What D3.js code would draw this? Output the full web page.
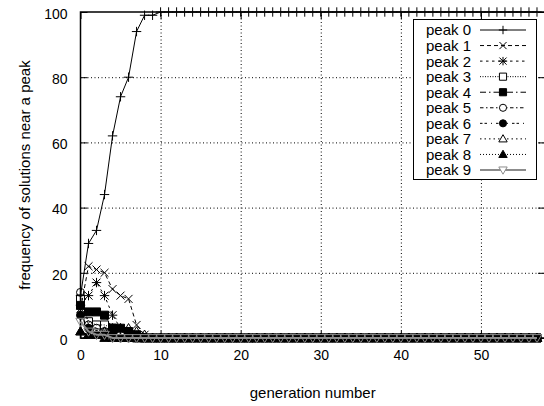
<!DOCTYPE html>
<html>
<head>
<meta charset="utf-8">
<script src="https://cdn.jsdelivr.net/npm/d3@7"></script>
<style>
  body { margin: 0; background: #fff; }
  svg { display: block; font-family: "Liberation Sans", Arial, Helvetica, sans-serif; }
</style>
</head>
<body>
<svg id="chart" width="544" height="406"></svg>
<script>
// generation number 0..57
const generations = [
  0, 1, 2, 3, 4, 5, 6, 7, 8, 9, 10, 11, 12, 13, 14, 15, 16, 17, 18, 19,
  20, 21, 22, 23, 24, 25, 26, 27, 28, 29, 30, 31, 32, 33, 34, 35, 36, 37, 38, 39,
  40, 41, 42, 43, 44, 45, 46, 47, 48, 49, 50, 51, 52, 53, 54, 55, 56, 57
];

const peak0 = [
  13, 29, 33, 44, 62, 74, 80, 94, 99, 99, 100, 100, 100, 100, 100, 100, 100, 100, 100, 100,
  100, 100, 100, 100, 100, 100, 100, 100, 100, 100, 100, 100, 100, 100, 100, 100, 100, 100, 100, 100,
  100, 100, 100, 100, 100, 100, 100, 100, 100, 100, 100, 100, 100, 100, 100, 100, 100, 100
];
const peak1 = [
  9, 22, 21, 20, 15, 13, 12, 4, 1, 0, 0, 0, 0, 0, 0, 0, 0, 0, 0, 0,
  0, 0, 0, 0, 0, 0, 0, 0, 0, 0, 0, 0, 0, 0, 0, 0, 0, 0, 0, 0,
  0, 0, 0, 0, 0, 0, 0, 0, 0, 0, 0, 0, 0, 0, 0, 0, 0, 0
];
const peak2 = [
  10, 13, 17, 13, 7, 3, 1, 0, 0, 0, 0, 0, 0, 0, 0, 0, 0, 0, 0, 0,
  0, 0, 0, 0, 0, 0, 0, 0, 0, 0, 0, 0, 0, 0, 0, 0, 0, 0, 0, 0,
  0, 0, 0, 0, 0, 0, 0, 0, 0, 0, 0, 0, 0, 0, 0, 0, 0, 0
];
const peak3 = [
  12, 5, 4, 4, 3, 2, 1, 0, 0, 0, 0, 0, 0, 0, 0, 0, 0, 0, 0, 0,
  0, 0, 0, 0, 0, 0, 0, 0, 0, 0, 0, 0, 0, 0, 0, 0, 0, 0, 0, 0,
  0, 0, 0, 0, 0, 0, 0, 0, 0, 0, 0, 0, 0, 0, 0, 0, 0, 0
];
const peak4 = [
  10, 8, 8, 7, 3, 3, 2, 1, 0, 0, 0, 0, 0, 0, 0, 0, 0, 0, 0, 0,
  0, 0, 0, 0, 0, 0, 0, 0, 0, 0, 0, 0, 0, 0, 0, 0, 0, 0, 0, 0,
  0, 0, 0, 0, 0, 0, 0, 0, 0, 0, 0, 0, 0, 0, 0, 0, 0, 0
];
const peak5 = [
  14, 4, 3, 2, 2, 1, 1, 0, 0, 0, 0, 0, 0, 0, 0, 0, 0, 0, 0, 0,
  0, 0, 0, 0, 0, 0, 0, 0, 0, 0, 0, 0, 0, 0, 0, 0, 0, 0, 0, 0,
  0, 0, 0, 0, 0, 0, 0, 0, 0, 0, 0, 0, 0, 0, 0, 0, 0, 0
];
const peak6 = [
  7, 3, 1, 1, 1, 0, 0, 0, 0, 0, 0, 0, 0, 0, 0, 0, 0, 0, 0, 0,
  0, 0, 0, 0, 0, 0, 0, 0, 0, 0, 0, 0, 0, 0, 0, 0, 0, 0, 0, 0,
  0, 0, 0, 0, 0, 0, 0, 0, 0, 0, 0, 0, 0, 0, 0, 0, 0, 0
];
const peak7 = [
  2, 1, 1, 2, 3, 3, 3, 2, 1, 0, 0, 0, 0, 0, 0, 0, 0, 0, 0, 0,
  0, 0, 0, 0, 0, 0, 0, 0, 0, 0, 0, 0, 0, 0, 0, 0, 0, 0, 0, 0,
  0, 0, 0, 0, 0, 0, 0, 0, 0, 0, 0, 0, 0, 0, 0, 0, 0, 0
];
const peak8 = [
  2, 1, 1, 0, 0, 0, 0, 0, 0, 0, 0, 0, 0, 0, 0, 0, 0, 0, 0, 0,
  0, 0, 0, 0, 0, 0, 0, 0, 0, 0, 0, 0, 0, 0, 0, 0, 0, 0, 0, 0,
  0, 0, 0, 0, 0, 0, 0, 0, 0, 0, 0, 0, 0, 0, 0, 0, 0, 0
];
const peak9 = [
  5, 2, 1, 1, 0, 0, 0, 0, 0, 0, 0, 0, 0, 0, 0, 0, 0, 0, 0, 0,
  0, 0, 0, 0, 0, 0, 0, 0, 0, 0, 0, 0, 0, 0, 0, 0, 0, 0, 0, 0,
  0, 0, 0, 0, 0, 0, 0, 0, 0, 0, 0, 0, 0, 0, 0, 0, 0, 0
];

const seriesNames = ["peak 0", "peak 1", "peak 2", "peak 3", "peak 4",
                     "peak 5", "peak 6", "peak 7", "peak 8", "peak 9"];
const seriesValues = [peak0, peak1, peak2, peak3, peak4, peak5, peak6, peak7, peak8, peak9];
const xTicks = [0, 10, 20, 30, 40, 50];
const yTicks = [0, 20, 40, 60, 80, 100];

// line / marker styles, one per series
const styles = [
  { dash: null,              marker: "plus",      color: "#000", width: 1 },
  { dash: "4,3",             marker: "cross",     color: "#000", width: 1 },
  { dash: "2.5,3.5",         marker: "star",      color: "#000", width: 1 },
  { dash: "1,1.5",           marker: "square",    color: "#000", width: 1 },
  { dash: "6,3,1.5,3",       marker: "squareF",   color: "#000", width: 1 },
  { dash: "3.5,2.5,1.5,2.5", marker: "circle",    color: "#000", width: 1 },
  { dash: "2.5,2,2.5,4,1,4", marker: "circleF",   color: "#000", width: 1 },
  { dash: "1.5,3",           marker: "triangle",  color: "#000", width: 1 },
  { dash: "1,2",             marker: "triangleF", color: "#000", width: 1 },
  { dash: null,              marker: "triangleD", color: "#8c8c8c", width: 2 }
];

const svg = d3.select("#chart");
const m = { left: 80.5, right: 545, top: 12, bottom: 338 };

const x = d3.scaleLinear().domain([0, 58]).range([m.left, m.right]);
const y = d3.scaleLinear().domain([0, 100]).range([m.bottom, m.top]);

// grid
svg.append("g")
  .attr("transform", `translate(0,${m.bottom})`)
  .call(d3.axisBottom(x).tickValues(xTicks.slice(1)).tickSize(-(m.bottom - m.top)).tickFormat(""))
  .call(g => g.select(".domain").remove())
  .call(g => g.selectAll("line").attr("stroke", "#000").attr("stroke-dasharray", "1,2.5"));
svg.append("g")
  .attr("transform", `translate(${m.left},0)`)
  .call(d3.axisLeft(y).tickValues(yTicks.slice(1, -1)).tickSize(-(m.right - m.left)).tickFormat(""))
  .call(g => g.select(".domain").remove())
  .call(g => g.selectAll("line").attr("stroke", "#000").attr("stroke-dasharray", "1,2.5"));

// border
svg.append("rect")
  .attr("x", m.left).attr("y", m.top)
  .attr("width", m.right - m.left).attr("height", m.bottom - m.top)
  .attr("fill", "none").attr("stroke", "#000").attr("stroke-width", 1.5);

// axes with inward ticks
svg.append("g")
  .attr("transform", `translate(0,${m.bottom})`)
  .call(d3.axisBottom(x).tickValues(xTicks).tickSize(-7).tickPadding(12))
  .call(g => g.select(".domain").remove())
  .call(g => g.selectAll("text").attr("font-size", 14).attr("fill", "#000"));
svg.append("g")
  .attr("transform", `translate(0,${m.top})`)
  .call(d3.axisTop(x).tickValues(xTicks).tickSize(-7).tickFormat(""))
  .call(g => g.select(".domain").remove());
svg.append("g")
  .attr("transform", `translate(${m.left},0)`)
  .call(d3.axisLeft(y).tickValues(yTicks).tickSize(-7).tickPadding(13))
  .call(g => g.select(".domain").remove())
  .call(g => g.selectAll("text").attr("font-size", 14).attr("fill", "#000").attr("dy", "0.45em"));
svg.append("g")
  .attr("transform", `translate(${m.right},0)`)
  .call(d3.axisRight(y).tickValues(yTicks).tickSize(-7).tickFormat(""))
  .call(g => g.select(".domain").remove());

svg.selectAll(".tick text").attr("font-family", null);

// axis titles
svg.append("text")
  .attr("x", (m.left + m.right) / 2).attr("y", 398)
  .attr("text-anchor", "middle").attr("font-size", 15)
  .text("generation number");
svg.append("text")
  .attr("transform", `translate(30,${(m.top + m.bottom) / 2}) rotate(-90)`)
  .attr("text-anchor", "middle").attr("font-size", 15)
  .text("frequency of solutions near a peak");

// marker path
function markerPath(type, s) {
  const t = s * 0.85;
  switch (type) {
    case "plus": return `M${-s},0H${s}M0,${-s}V${s}`;
    case "cross": return `M${-t},${-t}L${t},${t}M${-t},${t}L${t},${-t}`;
    case "star": return `M${-s},0H${s}M0,${-s}V${s}M${-t},${-t}L${t},${t}M${-t},${t}L${t},${-t}`;
    case "square": case "squareF": return `M${-t},${-t}H${t}V${t}H${-t}Z`;
    case "circle": case "circleF": return d3.arc()({ innerRadius: 0, outerRadius: t, startAngle: 0, endAngle: 2 * Math.PI });
    case "triangle": case "triangleF": return `M0,${-s}L${s},${s * 0.72}L${-s},${s * 0.72}Z`;
    case "triangleD": return `M0,${s}L${s},${-s * 0.72}L${-s},${-s * 0.72}Z`;
  }
}
const filled = t => t.endsWith("F");

const line = d3.line().x((d, i) => x(generations[i])).y(d => y(d));

seriesValues.forEach((vals, k) => {
  const st = styles[k];
  const g = svg.append("g");
  g.append("path")
    .datum(vals)
    .attr("d", line)
    .attr("fill", "none")
    .attr("stroke", st.color)
    .attr("stroke-width", st.width)
    .attr("stroke-dasharray", st.dash);
  g.selectAll(".pt")
    .data(vals)
    .join("path")
    .attr("transform", (d, i) => `translate(${x(generations[i])},${y(d)})`)
    .attr("d", markerPath(st.marker, 4.7))
    .attr("fill", filled(st.marker) ? st.color : "none")
    .attr("stroke", st.color)
    .attr("stroke-width", 1);
});

// legend
const lg = svg.append("g");
lg.append("rect")
  .attr("x", 413.5).attr("y", 19.5).attr("width", 123).attr("height", 160)
  .attr("fill", "#fff").attr("stroke", "#000").attr("stroke-width", 1);
const rowY = d3.scaleLinear().domain([0, 9]).range([30, 170]);
seriesNames.forEach((name, k) => {
  const st = styles[k];
  const yy = rowY(k);
  lg.append("text")
    .attr("x", 471).attr("y", yy).attr("dy", "0.36em")
    .attr("text-anchor", "end").attr("font-size", 15)
    .text(name);
  lg.append("line")
    .attr("x1", 480).attr("x2", 526).attr("y1", yy).attr("y2", yy)
    .attr("stroke", st.color).attr("stroke-width", st.width)
    .attr("stroke-dasharray", st.dash);
  lg.append("path")
    .attr("transform", `translate(503,${yy})`)
    .attr("d", markerPath(st.marker, 4.2))
    .attr("fill", filled(st.marker) ? st.color : (["plus", "cross", "star"].includes(st.marker) ? "none" : "#fff"))
    .attr("stroke", st.color)
    .attr("stroke-width", 1);
});
</script>
</body>
</html>
